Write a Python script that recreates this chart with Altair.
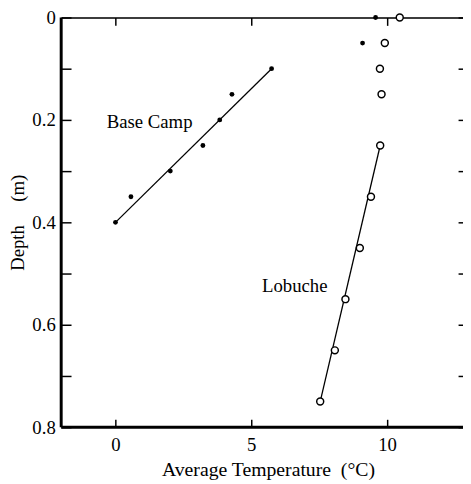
import altair as alt
import pandas as pd

# Base Camp (filled dots)
bc_temp = [0.0, 0.57, 2.02, 3.22, 3.84, 4.29, 5.75, 9.1, 9.58]
bc_depth = [0.40, 0.35, 0.30, 0.25, 0.20, 0.15, 0.10, 0.05, 0.0]
# Lobuche (open circles)
lo_temp = [10.47, 9.92, 9.74, 9.80, 9.75, 9.41, 9.0, 8.47, 8.08, 7.54]
lo_depth = [0.0, 0.05, 0.10, 0.15, 0.25, 0.35, 0.45, 0.55, 0.65, 0.75]
# fitted lines (end points)
bc_line_temp = [0.0, 5.75]
bc_line_depth = [0.40, 0.10]
lo_line_temp = [9.75, 7.54]
lo_line_depth = [0.25, 0.75]
# labels
label_text = ["Base Camp", "Lobuche"]
label_temp = [-0.32, 5.4]
label_depth = [0.205, 0.525]
# axes
x_domain = [-2, 12.8]
y_domain = [0, 0.8]
x_ticks = [0, 5, 10]
y_ticks = [0.0, 0.1, 0.2, 0.3, 0.4, 0.5, 0.6, 0.7, 0.8]

W, H = 408, 416
FONT = "Liberation Serif"
FS = 19

bc = pd.DataFrame({"t": bc_temp, "d": bc_depth})
lo = pd.DataFrame({"t": lo_temp, "d": lo_depth})
bcl = pd.DataFrame({"t": bc_line_temp, "d": bc_line_depth})
lol = pd.DataFrame({"t": lo_line_temp, "d": lo_line_depth})
lab = pd.DataFrame({"t": label_temp, "d": label_depth, "s": label_text})
# frame: left edge and bottom edge of the plot
frame = pd.DataFrame({
    "t": [x_domain[0], x_domain[0]],
    "t2": [x_domain[0], x_domain[1]],
    "d": [y_domain[0], y_domain[1]],
    "d2": [y_domain[1], y_domain[1]],
})

xs = alt.Scale(domain=x_domain, nice=False, zero=False)
ys = alt.Scale(domain=y_domain, reverse=True, nice=False, zero=False)

ylabel_expr = ("round(datum.value*10) % 2 == 0 ? (datum.value == 0 ? '0' : format(datum.value, '.1f')) : ''")
NB = "\u00a0"

main_x = alt.Axis(values=x_ticks, orient="bottom", title="Average Temperature" + NB * 2 + "(°C)",
                  tickSize=0, labelPadding=9, domain=False, grid=False, titlePadding=5,
                  titleX=210,
                  labelFont=FONT, labelFontSize=FS, titleFont=FONT, titleFontSize=20,
                  titleFontWeight="normal", labelColor="black", titleColor="black")
main_y = alt.Axis(values=y_ticks, orient="left", title="Depth" + NB * 5 + "(m)", labelExpr=ylabel_expr,
                  tickSize=0, labelPadding=6, domain=False, grid=False, titlePadding=5,
                  labelFont=FONT, labelFontSize=FS, titleFont=FONT, titleFontSize=FS,
                  titleFontWeight="normal", labelColor="black", titleColor="black")

# inward ticks on the bottom/left edges
in_x_bottom = alt.Axis(values=x_ticks, orient="top", offset=-H, labels=False, title=None,
                       tickSize=8, tickColor="black", tickWidth=1.5, domain=False, grid=False)
in_y_left = alt.Axis(values=y_ticks, orient="right", offset=-W, labels=False, title=None,
                     tickSize=10, tickColor="black", tickWidth=1.5, domain=False, grid=False)
# inward ticks on the top/right edges (top frame line)
in_x_top = alt.Axis(values=x_ticks, orient="bottom", offset=-H, labels=False, title=None,
                    tickSize=8, tickColor="black", tickWidth=1.5, domain=True,
                    domainColor="black", domainWidth=1.5, grid=False)
in_y_right = alt.Axis(values=y_ticks, orient="left", offset=-W, labels=False, title=None,
                      tickSize=5, tickColor="black", tickWidth=1.5, domain=False, grid=False)

bc_line = alt.Chart(bcl).mark_line(color="black", strokeWidth=1.3).encode(
    x=alt.X("t:Q", scale=xs, axis=main_x),
    y=alt.Y("d:Q", scale=ys, axis=main_y),
)
lo_line = alt.Chart(lol).mark_line(color="black", strokeWidth=1.3).encode(
    x=alt.X("t:Q", scale=xs, axis=None),
    y=alt.Y("d:Q", scale=ys, axis=None),
)
frame_rules = alt.Chart(frame).mark_rule(color="#000000", strokeWidth=3, opacity=1,
                                         strokeOpacity=1).encode(
    x=alt.X("t:Q", scale=xs, axis=None),
    x2="t2:Q",
    y=alt.Y("d:Q", scale=ys, axis=None),
    y2="d2:Q",
)
bc_pts = alt.Chart(bc).mark_point(filled=True, color="black", size=24, opacity=1).encode(
    x=alt.X("t:Q", scale=xs, axis=None),
    y=alt.Y("d:Q", scale=ys, axis=None),
)
lo_pts = alt.Chart(lo).mark_point(filled=True, fill="white", stroke="black", strokeWidth=1.5,
                                  size=50, opacity=1).encode(
    x=alt.X("t:Q", scale=xs, axis=None),
    y=alt.Y("d:Q", scale=ys, axis=None),
)
labels = alt.Chart(lab).mark_text(font=FONT, fontSize=FS, align="left", baseline="middle",
                                  color="black").encode(
    x=alt.X("t:Q", scale=xs, axis=None),
    y=alt.Y("d:Q", scale=ys, axis=None),
    text="s:N",
)
ticks_a = alt.Chart(bc).mark_point(opacity=0).encode(
    x=alt.X("t:Q", scale=xs, axis=in_x_top),
    y=alt.Y("d:Q", scale=ys, axis=in_y_right),
)
ticks_b = alt.Chart(bc).mark_point(opacity=0).encode(
    x=alt.X("t:Q", scale=xs, axis=in_x_bottom),
    y=alt.Y("d:Q", scale=ys, axis=in_y_left),
)

chart = alt.layer(bc_line, lo_line, lo_pts, bc_pts, labels, ticks_a, ticks_b, frame_rules).resolve_axis(
    x="independent", y="independent"
).properties(
    width=W, height=H,
    autosize=alt.AutoSizeParams(type="none"),
    padding={"left": 54, "top": 6, "right": 0, "bottom": 50},
).configure_view(stroke=None).configure(background="white")

chart.save("out.html", embed_options={"renderer": "svg", "actions": False})
